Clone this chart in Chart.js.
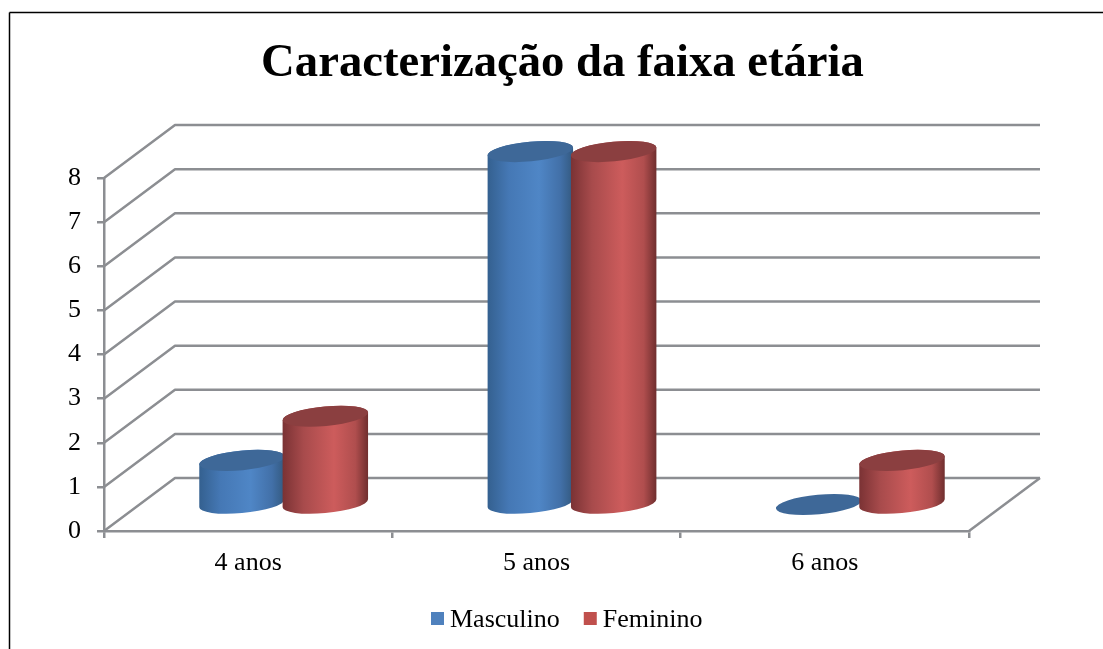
<!DOCTYPE html>
<html>
<head>
<meta charset="utf-8">
<title>Caracterização da faixa etária</title>
<script src="https://cdn.jsdelivr.net/npm/chart.js@4/dist/chart.umd.min.js"></script>
<style>
html, body { margin: 0; padding: 0; background: #fff; overflow: hidden; }
#chart { display: block; }
</style>
</head>
<body>
<canvas id="chart" width="1103" height="649"></canvas>
<script>
// Chart data
const categories = ['4 anos', '5 anos', '6 anos'];
const masculino = [1, 8, 0];
const feminino = [2, 8, 1];
const yTickMax = 8;

const serifFont = '"Liberation Serif", "Times New Roman", serif';
const gridColor = '#8c8e92';

// Shading for the cylinders, left to right across the body
const cylinderShades = [
    { body: ['#34608f', '#4578b5', '#4f86c6', '#4270a8', '#33597f'], top: '#3e6898' },
    { body: ['#7a3234', '#a84b4c', '#cd5c5c', '#b04e4e', '#6f2e2e'], top: '#8b3f40' }
];

// Depth of the fake 3D box
const depthX = 71;
const depthY = 53;

function strokeLine(ctx, x1, y1, x2, y2) {
    ctx.beginPath();
    ctx.moveTo(x1, y1);
    ctx.lineTo(x2, y2);
    ctx.stroke();
}

function drawCylinder(ctx, el, shade) {
    const rx = el.width / 2;
    const ry = 9.8;
    const tilt = -5.5 * Math.PI / 180;
    const cx = el.x + depthX / 2;
    const topY = el.y - depthY / 2;
    const baseY = el.base - depthY / 2;
    // angle of the rightmost point of the tilted ellipse
    const t0 = Math.atan(-(ry / rx) * Math.tan(tilt));

    if (baseY - topY > 0.5) {
        const grad = ctx.createLinearGradient(cx - rx, 0, cx + rx, 0);
        grad.addColorStop(0, shade.body[0]);
        grad.addColorStop(0.25, shade.body[1]);
        grad.addColorStop(0.6, shade.body[2]);
        grad.addColorStop(0.85, shade.body[3]);
        grad.addColorStop(1, shade.body[4]);
        ctx.beginPath();
        ctx.ellipse(cx, baseY, rx, ry, tilt, t0, t0 + Math.PI);
        ctx.ellipse(cx, topY, rx, ry, tilt, t0 + Math.PI, t0 + 2 * Math.PI);
        ctx.closePath();
        ctx.fillStyle = grad;
        ctx.fill();
    }

    ctx.beginPath();
    ctx.ellipse(cx, topY, rx, ry, tilt, 0, 2 * Math.PI);
    ctx.fillStyle = shade.top;
    ctx.fill();
}

const box3dPlugin = {
    id: 'box3d',
    afterLayout(chart) {
        // title is centred on the whole frame, not on the padded box
        chart.titleBlock.left = 22;
        chart.titleBlock.right = 1103;
    },
    beforeDraw(chart) {
        const ctx = chart.ctx;
        // outer frame, only top and left are visible
        ctx.save();
        ctx.strokeStyle = '#000';
        ctx.lineWidth = 1.5;
        strokeLine(ctx, 9.5, 649, 9.5, 12.5);
        strokeLine(ctx, 9.5, 12.5, 1103, 12.5);
        ctx.restore();
    },
    beforeDatasetsDraw(chart) {
        const ctx = chart.ctx;
        const area = chart.chartArea;
        const yScale = chart.scales.y;

        ctx.save();
        ctx.strokeStyle = gridColor;
        ctx.lineWidth = 2.5;
        ctx.lineJoin = 'round';
        yScale.ticks.forEach(t => {
            const y = yScale.getPixelForValue(t.value);
            ctx.beginPath();
            ctx.moveTo(area.left, y);
            ctx.lineTo(area.left + depthX, y - depthY);
            ctx.lineTo(area.right + depthX, y - depthY);
            ctx.stroke();
        });
        strokeLine(ctx, area.right, area.bottom, area.right + depthX, area.bottom - depthY);
        ctx.restore();

        // cylinders in dataset order so the red one overlaps the blue one
        chart.data.datasets.forEach((ds, i) => {
            chart.getDatasetMeta(i).data.forEach(el => drawCylinder(ctx, el, cylinderShades[i]));
        });

        drawLegend(chart);
        return false;
    }
};

// Legend is drawn here because the built-in one has a fixed wide gap after the box
function drawLegend(chart) {
    const ctx = chart.ctx;
    const y = 619;
    let x = 431;
    ctx.save();
    ctx.font = '26px ' + serifFont;
    ctx.textBaseline = 'middle';
    chart.data.datasets.forEach(ds => {
        ctx.fillStyle = ds.backgroundColor;
        ctx.fillRect(x, y - 7, 13, 13);
        ctx.fillStyle = '#000';
        ctx.fillText(ds.label, x + 19, y + 1);
        x += 19 + ctx.measureText(ds.label).width + 24;
    });
    ctx.restore();
}

new Chart(document.getElementById('chart'), {
    type: 'bar',
    data: {
        labels: categories,
        datasets: [
            { label: 'Masculino', data: masculino, backgroundColor: '#4f81bd' },
            { label: 'Feminino', data: feminino, backgroundColor: '#c0504d' }
        ]
    },
    plugins: [box3dPlugin],
    options: {
        responsive: false,
        animation: false,
        events: [],
        layout: { padding: { left: 0, right: 134, top: 0, bottom: 78 } },
        datasets: { bar: { barPercentage: 1.03, categoryPercentage: 0.578 } },
        scales: {
            x: {
                afterFit(scale) { scale.height = 40; },
                border: { color: gridColor, width: 2.5 },
                grid: { drawOnChartArea: false, color: gridColor, lineWidth: 2.5, tickLength: 7 },
                ticks: { color: '#000', font: { family: serifFont, size: 26 }, padding: 10, maxRotation: 0 }
            },
            y: {
                min: 0,
                max: yTickMax,
                afterFit(scale) { scale.width = 104; },
                border: { color: gridColor, width: 2.5 },
                grid: { drawOnChartArea: false, color: gridColor, lineWidth: 2.5, tickLength: 7 },
                ticks: { stepSize: 1, color: '#000', font: { family: serifFont, size: 26 }, padding: 16 }
            }
        },
        plugins: {
            legend: { display: false },
            tooltip: { enabled: false },
            title: {
                display: true,
                text: 'Caracterização da faixa etária',
                color: '#000',
                font: { family: serifFont, size: 46.7, weight: 'bold', lineHeight: 1.2 },
                padding: { top: 36, bottom: 86 }
            }
        }
    }
});
</script>
</body>
</html>
